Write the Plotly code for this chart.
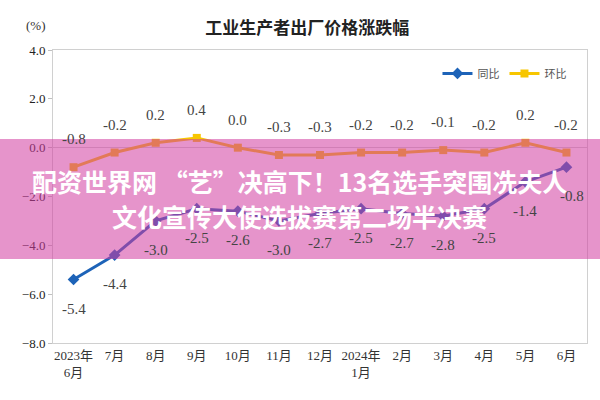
import plotly.graph_objects as go

categories = ["2023年<br>6月", "7月", "8月", "9月", "10月", "11月", "12月",
              "2024年<br>1月", "2月", "3月", "4月", "5月", "6月"]
yoy = [-5.4, -4.4, -3.0, -2.5, -2.6, -3.0, -2.7, -2.5, -2.7, -2.8, -2.5, -1.4, -0.8]
mom = [-0.8, -0.2, 0.2, 0.4, 0.0, -0.3, -0.3, -0.2, -0.2, -0.1, -0.2, 0.2, -0.2]
y_ticks = [-8.0, -6.0, -4.0, -2.0, 0.0, 2.0, 4.0]

title_text = "工业生产者出厂价格涨跌幅"
unit_text = "(%)"
banner_lines = ["配资世界网 “艺”决高下！13名选手突围冼夫人", "文化宣传大使选拔赛第二场半决赛"]

BLUE = "#1d63b8"
YELLOW = "#f7c600"
SERIF = "Liberation Serif, Noto Sans CJK SC"

fig = go.Figure()
fig.add_trace(go.Scatter(
    x=categories, y=yoy, name="同比", mode="lines+markers",
    line=dict(color=BLUE, width=3),
    marker=dict(symbol="diamond", size=9, color=BLUE),
))
fig.add_trace(go.Scatter(
    x=categories, y=mom, name="环比", mode="lines+markers",
    line=dict(color=YELLOW, width=3),
    marker=dict(symbol="square", size=8, color=YELLOW),
))

annotations = []
for c, v in zip(categories, mom):
    annotations.append(dict(x=c, y=v, xref="x", yref="y", text=f"{v:.1f}",
                            showarrow=False, yshift=28,
                            font=dict(family=SERIF, size=15, color="#444")))
for i, (c, v) in enumerate(zip(categories, yoy)):
    annotations.append(dict(x=c, y=v, xref="x", yref="y", text=f"{v:.1f}",
                            showarrow=False, yshift=-29,
                            xshift=6 if i == len(yoy) - 1 else 0,
                            font=dict(family=SERIF, size=15, color="#444")))

annotations.append(dict(x=-0.032, y=1.082, xref="paper", yref="paper", text=unit_text,
                        showarrow=False, xanchor="center", yanchor="middle",
                        font=dict(family=SERIF, size=13, color="#333")))
annotations.append(dict(x=0.4625, y=0.552, xref="paper", yref="paper",
                        text="<b>" + banner_lines[0] + "</b>", showarrow=False,
                        font=dict(family="Noto Sans CJK SC", size=25, color="white")))
annotations.append(dict(x=0.4625, y=0.432, xref="paper", yref="paper",
                        text="<b>" + banner_lines[1] + "</b>", showarrow=False,
                        font=dict(family="Noto Sans CJK SC", size=25, color="white")))

fig.update_layout(
    annotations=annotations,
    width=600, height=400,
    margin=dict(l=53, r=13, t=50, b=57),
    paper_bgcolor="white", plot_bgcolor="white",
    title=dict(text="<b>" + title_text + "</b>", x=0.512, xanchor="center",
               y=0.93, yanchor="middle",
               font=dict(family="Noto Sans CJK SC", size=17, color="#222")),
    showlegend=True,
    legend=dict(orientation="h", x=0.72, y=0.92, xanchor="left", yanchor="middle",
                bgcolor="rgba(0,0,0,0)", font=dict(family=SERIF, size=11, color="#555"),
                itemwidth=30, tracegroupgap=0),
    xaxis=dict(type="category", range=[-0.5, 12.5], showline=True, mirror=True,
               linecolor="#d0d0d0", linewidth=1, showgrid=False, ticks="",
               tickfont=dict(family=SERIF, size=13, color="#333")),
    yaxis=dict(range=[-8, 4], tickvals=y_ticks, tickformat=".1f", showline=True,
               mirror=True, linecolor="#d0d0d0", linewidth=1, showgrid=False,
               ticks="outside", ticklen=4, tickcolor="#c0c0c0",
               zeroline=True, zerolinecolor="#d0d0d0", zerolinewidth=1,
               tickfont=dict(family=SERIF, size=13, color="#222")),
    shapes=[dict(type="rect", xref="paper", yref="paper",
                 x0=-0.2, x1=1.2, y0=0.287, y1=0.696,
                 fillcolor="rgba(210,60,160,0.55)", line=dict(width=0), layer="above")],
)

fig.write_html("out.html")
